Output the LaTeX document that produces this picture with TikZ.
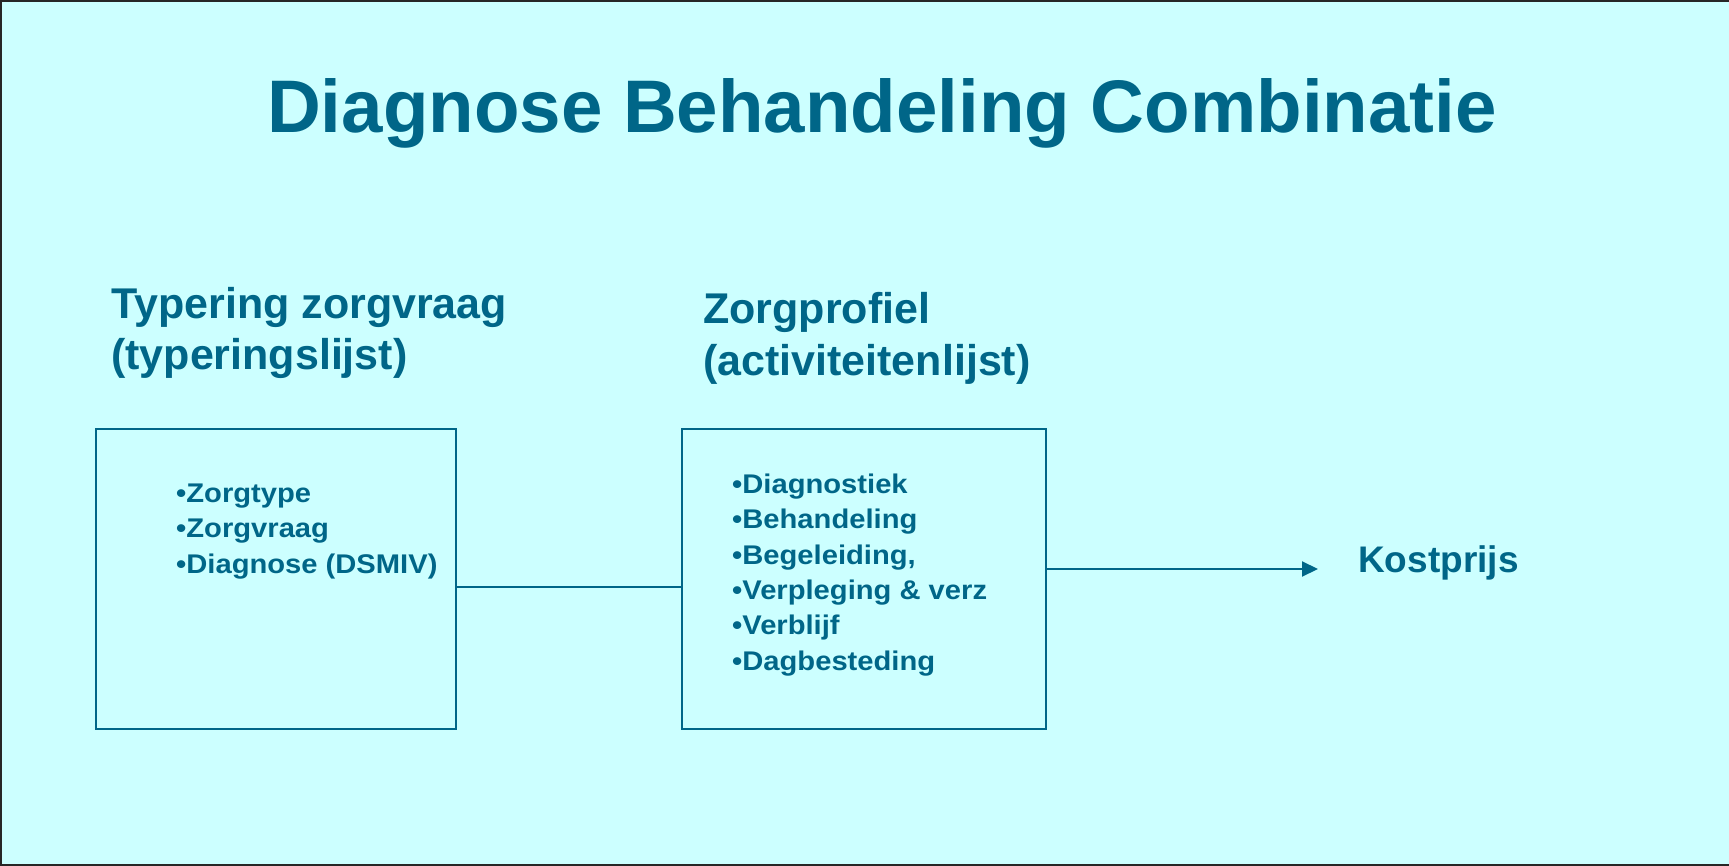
\documentclass[tikz,border=0pt]{standalone}
\usepackage{fontspec}
\setmainfont{Liberation Sans}
\usetikzlibrary{arrows.meta}
\definecolor{dbc}{RGB}{0,102,136}
\definecolor{bgc}{RGB}{204,255,255}
\begin{document}
\begin{tikzpicture}[x=1pt,y=-1pt,
  txt/.style={inner sep=0pt, anchor=base west, text=dbc},
  titletxt/.style={txt, font=\fontsize{74.5}{80}\selectfont\bfseries},
  headtxt/.style={txt, font=\fontsize{43}{48}\selectfont\bfseries},
  kosttxt/.style={txt, font=\fontsize{37}{42}\selectfont\bfseries},
  itemtxt/.style={txt, font=\fontsize{27}{30}\selectfont\bfseries},
  boxnode/.style={draw=dbc, line width=2pt, inner sep=0pt, minimum height=300pt},
  conn/.style={draw=dbc, line width=2pt}]
\fill[bgc] (0,0) rectangle (1729,866);
\useasboundingbox (0,0) rectangle (1729,866);
\draw[line width=2pt, black!85] (1729,1) -- (1,1) -- (1,865) -- (1729,865);

\node[titletxt] (title) at (267,133) {Diagnose Behandeling Combinatie};

\node[headtxt] (h1a) at (111,319) {Typering zorgvraag};
\node[headtxt] (h1b) at (111,370) {(typeringslijst)};
\node[headtxt] (h2a) at (703,324) {Zorgprofiel};
\node[headtxt] (h2b) at (703,375) {(activiteitenlijst)};

\node[boxnode, minimum width=360pt] (b1) at (276,579) {};
\node[boxnode, minimum width=364pt] (b2) at (864,579) {};

\node[itemtxt] (i1) at (176,502) {\scalebox{1.08}[1]{•Zorgtype}};
\node[itemtxt] (i2) at (176,537) {\scalebox{1.08}[1]{•Zorgvraag}};
\node[itemtxt] (i3) at (176,573) {\scalebox{1.08}[1]{•Diagnose (DSMIV)}};

\node[itemtxt] (j1) at (732,493) {\scalebox{1.08}[1]{•Diagnostiek}};
\node[itemtxt] (j2) at (732,528) {\scalebox{1.08}[1]{•Behandeling}};
\node[itemtxt] (j3) at (732,564) {\scalebox{1.08}[1]{•Begeleiding,}};
\node[itemtxt] (j4) at (732,599) {\scalebox{1.08}[1]{•Verpleging \& verz}};
\node[itemtxt] (j5) at (732,634) {\scalebox{1.08}[1]{•Verblijf}};
\node[itemtxt] (j6) at (732,670) {\scalebox{1.08}[1]{•Dagbesteding}};

\node[kosttxt] (kost) at (1358,572) {Kostprijs};
\coordinate (tip) at (1318,569);

\draw[conn] ([yshift=-8pt]b1.east) -- ([yshift=-8pt]b2.west);
\draw[conn, -{Triangle[length=16pt,width=15pt]}] ([yshift=10pt]b2.east) -- (tip);
\end{tikzpicture}
\end{document}
